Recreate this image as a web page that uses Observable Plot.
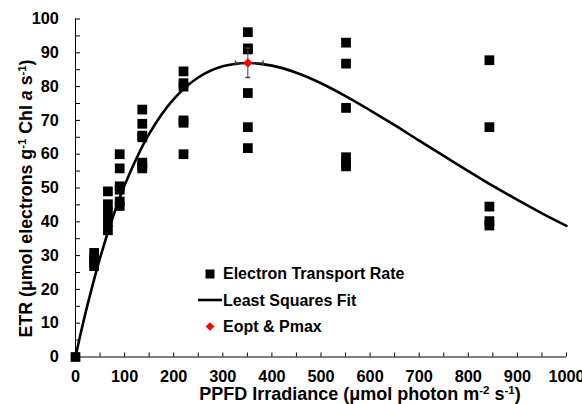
<!DOCTYPE html>
<html><head><meta charset="utf-8">
<script src="https://cdn.jsdelivr.net/npm/d3@7"></script>
<script src="https://cdn.jsdelivr.net/npm/@observablehq/plot@0.6"></script>
<style>
body{margin:0;background:#fff;}
#wrap{position:relative;width:582px;height:404px;overflow:hidden;font-family:"Liberation Sans",Arial,sans-serif;}
#wrap > svg{position:absolute;left:0;top:0;}
</style></head><body><div id="wrap"></div>
<script>
// Irradiance levels (PPFD, µmol photon m-2 s-1) and measured ETR at each level
const levels = [0, 38, 66, 90, 136, 220, 351, 551, 843];
const etrValues = [
  [0],
  [30.8, 29.2, 28, 26.9],
  [49, 45.2, 42.8, 40, 37.5],
  [60, 55.8, 50.5, 49.5, 46, 44.7],
  [73.2, 69, 65.5, 65, 57.5, 56.5, 55.8],
  [84.5, 81, 80, 70, 69.3, 60],
  [96.1, 91.3, 91, 78.1, 68, 61.8],
  [93, 86.8, 73.7, 59.1, 57.5, 56.4],
  [87.8, 68, 44.5, 40.2, 38.9]
];
// Least squares fit curve
const fitX = [0, 12.5, 25, 50, 75, 100, 150, 200, 250, 300, 350, 400, 450, 500, 550, 600, 650, 700, 750, 800, 850, 900, 950, 1000];
const fitY = [0, 8.2, 15.7, 29.3, 40.9, 50.8, 66.0, 76.3, 82.7, 86.0, 87.0, 86.2, 84.1, 81.0, 77.2, 73.0, 68.6, 64.0, 59.5, 55.0, 50.6, 46.5, 42.5, 38.8];
// Eopt & Pmax with error ranges
const eopt = 351, pmax = 87;
const eoptRange = [326, 382];
const pmaxRange = [82.7, 91.4];
// Ticks
const xTicks = [0, 50, 100, 150, 200, 250, 300, 350, 400, 450, 500, 550, 600, 650, 700, 750, 800, 850, 900, 950, 1000];
const yTicks = [0, 5, 10, 15, 20, 25, 30, 35, 40, 45, 50, 55, 60, 65, 70, 75, 80, 85, 90, 95, 100];

const etr = levels.flatMap((x, i) => etrValues[i].map(y => ({x, y})));
const fit = fitX.map((x, i) => ({x, y: fitY[i]}));

const hCap = {draw(ctx, size) { const r = Math.sqrt(size) / 2; ctx.moveTo(-r, 0); ctx.lineTo(r, 0); }};
const vCap = {draw(ctx, size) { const r = Math.sqrt(size) / 2; ctx.moveTo(0, -r); ctx.lineTo(0, r); }};
const errColor = "#444";

const plot = Plot.plot({
  width: 582, height: 404,
  marginLeft: 75, marginRight: 16, marginTop: 18.5, marginBottom: 47.5,
  style: {fontFamily: '"Liberation Sans", Arial, sans-serif', fontSize: "16.3px", fontWeight: "bold", color: "#000", background: "transparent", overflow: "visible"},
  x: {domain: [0, 1000]},
  y: {domain: [0, 100]},
  marks: [
    Plot.axisY(yTicks, {tickSize: -5, tickPadding: 21.7, tickFormat: d => d % 10 === 0 ? String(d) : "", label: null}),
    Plot.axisX(xTicks, {tickSize: -4, tickPadding: 17.8, tickFormat: d => d % 100 === 0 ? String(d) : "", label: null}),
    Plot.ruleY([0], {stroke: "#000"}),
    Plot.ruleX([0], {stroke: "#000"}),
    Plot.dot(etr, {x: "x", y: "y", symbol: "square", r: 5.5, fill: "#000"}),
    Plot.line(fit, {x: "x", y: "y", stroke: "#000", strokeWidth: 2.6, curve: "catmull-rom"}),
    Plot.ruleX([eopt], {y1: pmaxRange[0], y2: pmaxRange[1], stroke: errColor, strokeWidth: 1}),
    Plot.ruleY([pmax], {x1: eoptRange[0], x2: eoptRange[1], stroke: errColor, strokeWidth: 1}),
    Plot.dot(pmaxRange.map(y => ({x: eopt, y})), {x: "x", y: "y", symbol: hCap, r: 2.8, fill: "none", stroke: errColor}),
    Plot.dot(eoptRange.map(x => ({x, y: pmax})), {x: "x", y: "y", symbol: vCap, r: 2.8, fill: "none", stroke: errColor}),
    Plot.dot([{x: eopt, y: pmax}], {x: "x", y: "y", symbol: "diamond2", r: 4.2, fill: "#ff0000"})
  ]
});
const wrap = document.getElementById("wrap");
wrap.appendChild(plot);

const ns = "http://www.w3.org/2000/svg";
const ov = document.createElementNS(ns, "svg");
ov.setAttribute("width", 582); ov.setAttribute("height", 404);
ov.setAttribute("font-family", '"Liberation Sans", Arial, sans-serif');
ov.setAttribute("font-weight", "bold");
ov.innerHTML = `
<text x="360" y="400.3" text-anchor="middle" font-size="18">PPFD Irradiance (μmol photon m<tspan dy="-6" font-size="11.5">-2</tspan><tspan dy="6"> s</tspan><tspan dy="-6" font-size="11.5">-1</tspan><tspan dy="6">)</tspan></text>
<text transform="translate(32,198.5) rotate(-90)" text-anchor="middle" font-size="17.8">ETR (μmol electrons g<tspan dy="-6" font-size="11.3">-1</tspan><tspan dy="6"> Chl </tspan><tspan font-style="italic">a</tspan><tspan> s</tspan><tspan dy="-6" font-size="11.3">-1</tspan><tspan dy="6">)</tspan></text>
<rect x="205.5" y="269.5" width="9" height="9" fill="#000"/>
<text x="223" y="279.4" font-size="16">Electron Transport Rate</text>
<line x1="198" x2="222" y1="300" y2="300" stroke="#000" stroke-width="2.6"/>
<text x="223" y="305.7" font-size="16">Least Squares Fit</text>
<path d="M210,322.2L214.3,326.5L210,330.8L205.7,326.5Z" fill="#ff0000"/>
<text x="223" y="332" font-size="16">Eopt &amp; Pmax</text>
`;
wrap.appendChild(ov);
</script>
</body></html>
